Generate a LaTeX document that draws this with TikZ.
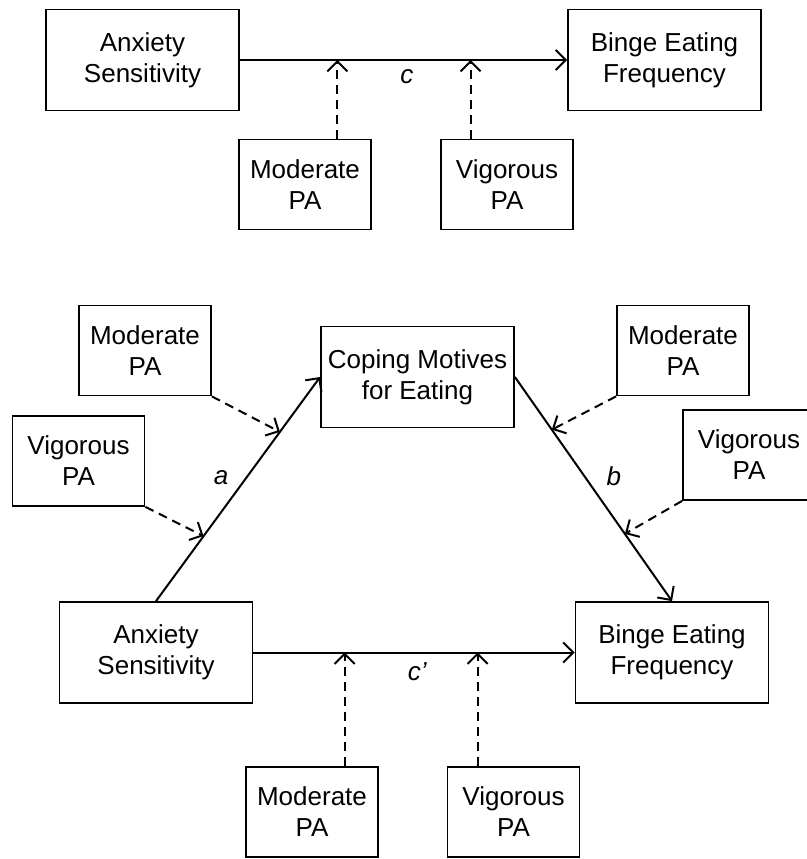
\documentclass[tikz,border=0pt]{standalone}
\usepackage{fontspec}
\setmainfont{Liberation Sans}
\usetikzlibrary{positioning, arrows.meta}

\begin{document}
\begin{tikzpicture}[
        x=1pt, y=-1pt,
        >={Straight Barb[length=10pt,width=20pt]},
        line width=2pt,
        on grid,
        every node/.style={font=\fontsize{26}{31}\selectfont},
        var/.style={draw, rectangle, align=center, inner sep=0pt, line width=1.8pt,
            minimum width=193pt, minimum height=101pt},
        pa/.style={draw, rectangle, align=center, inner sep=0pt, line width=1.8pt,
            minimum width=132pt, minimum height=90pt},
        modr/.style={->, dash pattern=on 9pt off 6pt},
        lbl/.style={font=\fontsize{26}{31}\selectfont\itshape, inner sep=1pt}
    ]
        \useasboundingbox (0,0) rectangle (806,859);

        % total effect
        \node[var] (as1) at (142.5,60) {Anxiety\\Sensitivity};
        \node[var, right=522pt of as1] (bef1) {Binge Eating\\Frequency};
        \node[pa] (mod1) at (305,184.5) {Moderate\\PA};
        \node[pa, right=202pt of mod1] (vig1) {Vigorous\\PA};

        \draw[->] (as1.east) -- node[lbl, pos=0.51, below=8pt] {c}
            coordinate[pos=0.298] (m1) coordinate[pos=0.705] (v1) (bef1.west);
        \draw[modr] (mod1.north -| m1) -- (m1);
        \draw[modr] (vig1.north -| v1) -- (v1);

        % mediation model
        \node[var] (cope) at (417.5,377) {Coping Motives\\for Eating};
        \node[var] (as2) at (156,652.5) {Anxiety\\Sensitivity};
        \node[var, right=516pt of as2] (bef2) {Binge Eating\\Frequency};

        \node[pa] (modL) at (145,350.5) {Moderate\\PA};
        \node[pa, below left=110.5pt and 66.5pt of modL] (vigL) {Vigorous\\PA};
        \node[pa] (modR) at (683,350.5) {Moderate\\PA};
        \node[pa, below right=104.5pt and 66pt of modR] (vigR) {Vigorous\\PA};
        \node[pa] (mod2) at (312,812) {Moderate\\PA};
        \node[pa, right=201.5pt of mod2] (vig2) {Vigorous\\PA};

        \draw[->] (as2.north) -- node[lbl, pos=0.55, left=16pt] {a}
            coordinate[pos=0.29] (va) coordinate[pos=0.755] (ma) (cope.west);
        \draw[->] (cope.east) -- node[lbl, pos=0.444, right=20pt] {b}
            coordinate[pos=0.235] (mb) coordinate[pos=0.70] (vb) (bef2.north);
        \draw[->] (as2.east) -- node[lbl, pos=0.51, below=8pt] {c’}
            coordinate[pos=0.284] (m2) coordinate[pos=0.698] (v2) (bef2.west);

        \draw[modr] (modL.south east) -- (ma);
        \draw[modr] (vigL.south east) -- (va);
        \draw[modr] (modR.south west) -- (mb);
        \draw[modr] (vigR.south west) -- (vb);
        \draw[modr] (mod2.north -| m2) -- (m2);
        \draw[modr] (vig2.north -| v2) -- (v2);
\end{tikzpicture}
\end{document}
